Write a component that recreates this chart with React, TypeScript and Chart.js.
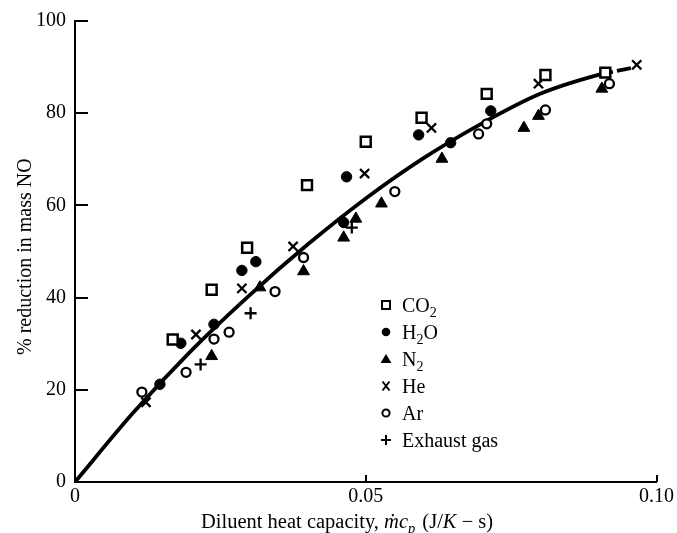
import React, { useEffect, useRef } from 'react';
import { Chart, registerables } from 'chart.js';

Chart.register(...registerables);

// ---- data ----
const CO2_X = [0.0168, 0.0235, 0.0296, 0.0399, 0.0500, 0.0596, 0.0708, 0.0809, 0.0912];
const CO2_Y = [30.9, 41.7, 50.8, 64.4, 73.8, 79.0, 84.2, 88.3, 88.8];

const H2O_X = [0.0146, 0.0182, 0.0239, 0.0287, 0.0311, 0.0462, 0.0467, 0.0591, 0.0646, 0.0715];
const H2O_Y = [21.2, 30.1, 34.2, 45.9, 47.8, 56.3, 66.2, 75.3, 73.6, 80.5];

const N2_X = [0.0235, 0.0318, 0.0393, 0.0462, 0.0483, 0.0527, 0.0631, 0.0772, 0.0797, 0.0906];
const N2_Y = [27.3, 42.2, 45.7, 53.0, 57.1, 60.4, 70.1, 76.8, 79.4, 85.3];

const HE_X = [0.0122, 0.0208, 0.0287, 0.0375, 0.0498, 0.0613, 0.0797, 0.0966];
const HE_Y = [17.3, 32.0, 42.0, 51.1, 66.9, 76.8, 86.4, 90.5];

const AR_X = [0.0115, 0.0191, 0.0239, 0.0265, 0.0344, 0.0393, 0.0550, 0.0694, 0.0708, 0.0809, 0.0919];
const AR_Y = [19.5, 23.8, 31.0, 32.5, 41.3, 48.7, 63.0, 75.5, 77.7, 80.7, 86.4];

const EXH_X = [0.0216, 0.0302, 0.0476];
const EXH_Y = [25.5, 36.6, 55.2];

const CURVE_X = [0, 0.01, 0.02, 0.03, 0.04, 0.05, 0.06, 0.07, 0.08, 0.09, 0.0925];
const CURVE_Y = [0, 15, 28.5, 40.5, 51.5, 61.5, 70.3, 77.8, 84.2, 88.3, 89.0];

const DASH_X = [0.0932, 0.0956];
const DASH_Y = [89.2, 89.8];

const X_TICKS = [0, 0.05, 0.1];
const X_TICK_LABELS = ['0', '0.05', '0.10'];
const Y_TICKS = [0, 20, 40, 60, 80, 100];
const Y_TICK_LABELS = ['0', '20', '40', '60', '80', '100'];

const LEGEND_ITEMS = [
  { style: 'rect', main: 'CO', sub: '2', tail: '' },
  { style: 'dot', main: 'H', sub: '2', tail: 'O' },
  { style: 'triangle', main: 'N', sub: '2', tail: '' },
  { style: 'x', main: 'He', sub: '', tail: '' },
  { style: 'ring', main: 'Ar', sub: '', tail: '' },
  { style: 'plus', main: 'Exhaust gas', sub: '', tail: '' },
];

const Y_TITLE = '% reduction in mass NO';
const X_TITLE_PARTS = [
  { text: 'Diluent heat capacity, ', italic: false, sub: false },
  { text: '\u1E41c', italic: true, sub: false },
  { text: 'p', italic: true, sub: true },
  { text: ' (J/', italic: false, sub: false },
  { text: 'K', italic: true, sub: false },
  { text: ' \u2212 s)', italic: false, sub: false },
];

const FONT = '"Liberation Serif", "Times New Roman", serif';

function pts(xs: number[], ys: number[]) {
  return xs.map((x, i) => ({ x, y: ys[i] }));
}

function drawMarker(ctx: CanvasRenderingContext2D, style: string, x: number, y: number) {
  ctx.save();
  ctx.strokeStyle = '#000';
  ctx.fillStyle = '#000';
  ctx.lineWidth = 2;
  ctx.beginPath();
  if (style === 'rect') {
    ctx.fillStyle = '#fff';
    ctx.rect(x - 4, y - 4, 8, 8);
    ctx.fill();
    ctx.stroke();
  } else if (style === 'dot') {
    ctx.arc(x, y, 4.3, 0, Math.PI * 2);
    ctx.fill();
  } else if (style === 'triangle') {
    ctx.moveTo(x, y - 5);
    ctx.lineTo(x + 5.5, y + 4);
    ctx.lineTo(x - 5.5, y + 4);
    ctx.closePath();
    ctx.fill();
  } else if (style === 'x') {
    ctx.lineWidth = 2;
    ctx.moveTo(x - 3.5, y - 4.5);
    ctx.lineTo(x + 3.5, y + 4.5);
    ctx.moveTo(x + 3.5, y - 4.5);
    ctx.lineTo(x - 3.5, y + 4.5);
    ctx.stroke();
  } else if (style === 'ring') {
    ctx.arc(x, y, 3.6, 0, Math.PI * 2);
    ctx.stroke();
  } else if (style === 'plus') {
    ctx.lineWidth = 2;
    ctx.moveTo(x - 5, y);
    ctx.lineTo(x + 5, y);
    ctx.moveTo(x, y - 5);
    ctx.lineTo(x, y + 5);
    ctx.stroke();
  }
  ctx.restore();
}

export default function App() {
  const ref = useRef<HTMLCanvasElement>(null);

  useEffect(() => {
    if (!ref.current) return;

    const decorPlugin = {
      id: 'decor',
      afterDraw(chart: any) {
        const { ctx, chartArea } = chart;
        const xs = chart.scales.x;
        const ys = chart.scales.y;
        ctx.save();
        ctx.strokeStyle = '#000';
        ctx.lineWidth = 2;
        // inward tick marks
        Y_TICKS.slice(1).forEach((v) => {
          const py = Math.round(ys.getPixelForValue(v));
          ctx.beginPath();
          ctx.moveTo(chartArea.left, py);
          ctx.lineTo(chartArea.left + 13, py);
          ctx.stroke();
        });
        X_TICKS.slice(1).forEach((v) => {
          const px = Math.round(xs.getPixelForValue(v));
          ctx.beginPath();
          ctx.moveTo(px, chartArea.bottom);
          ctx.lineTo(px, chartArea.bottom - 7);
          ctx.stroke();
        });

        // legend
        ctx.fillStyle = '#000';
        ctx.textBaseline = 'alphabetic';
        ctx.textAlign = 'left';
        LEGEND_ITEMS.forEach((it, i) => {
          const cy = 305 + i * 27;
          drawMarker(ctx, it.style, 386, cy);
          let tx = 402;
          const base = cy + 7;
          ctx.font = `20px ${FONT}`;
          ctx.fillText(it.main, tx, base);
          tx += ctx.measureText(it.main).width;
          if (it.sub) {
            ctx.font = `14px ${FONT}`;
            ctx.fillText(it.sub, tx, base + 5);
            tx += ctx.measureText(it.sub).width;
          }
          if (it.tail) {
            ctx.font = `20px ${FONT}`;
            ctx.fillText(it.tail, tx, base);
          }
        });

        // x title
        let tx = 201;
        const tb = 528;
        X_TITLE_PARTS.forEach((p) => {
          const size = p.sub ? 14.5 : 20.5;
          ctx.font = `${p.italic ? 'italic ' : ''}${size}px ${FONT}`;
          ctx.fillText(p.text, tx, p.sub ? tb + 5 : tb);
          tx += ctx.measureText(p.text).width + (p.sub ? 2 : 0);
        });

        // y title
        ctx.save();
        ctx.translate(31, 355);
        ctx.rotate(-Math.PI / 2);
        ctx.font = `20px ${FONT}`;
        ctx.textAlign = 'left';
        ctx.fillText(Y_TITLE, 0, 0);
        ctx.restore();

        ctx.restore();
      },
    };

    const ptBase = {
      showLine: false,
      pointBorderColor: '#000',
      pointHoverRadius: 0,
      order: 0,
    };

    const chart = new Chart(ref.current, {
      type: 'scatter',
      data: {
        datasets: [
          { ...ptBase, label: 'CO2', data: pts(CO2_X, CO2_Y), pointStyle: 'rect', pointRadius: 7, pointBorderWidth: 2.5, pointBackgroundColor: '#fff' },
          { ...ptBase, label: 'H2O', data: pts(H2O_X, H2O_Y), pointStyle: 'circle', pointRadius: 5.2, pointBorderWidth: 1, pointBackgroundColor: '#000' },
          { ...ptBase, label: 'N2', data: pts(N2_X, N2_Y), pointStyle: 'triangle', pointRadius: 6.8, pointBorderWidth: 1, pointBackgroundColor: '#000' },
          { ...ptBase, label: 'He', data: pts(HE_X, HE_Y), pointStyle: 'crossRot', pointRadius: 6.5, pointBorderWidth: 2.3, pointBackgroundColor: '#000' },
          { ...ptBase, label: 'Ar', data: pts(AR_X, AR_Y), pointStyle: 'circle', pointRadius: 4.5, pointBorderWidth: 2.3, pointBackgroundColor: '#fff' },
          { ...ptBase, label: 'Exhaust gas', data: pts(EXH_X, EXH_Y), pointStyle: 'cross', pointRadius: 6, pointBorderWidth: 2.3, pointBackgroundColor: '#000' },
          { label: 'fit', data: pts(CURVE_X, CURVE_Y), showLine: true, borderColor: '#000', borderWidth: 3.8, pointRadius: 0, cubicInterpolationMode: 'monotone', order: 10 },
          { label: 'fit-dash', data: pts(DASH_X, DASH_Y), showLine: true, borderColor: '#000', borderWidth: 3.8, pointRadius: 0, order: 10 },
        ] as any,
      },
      options: {
        animation: false,
        responsive: false,
        layout: { padding: { top: 20, right: 19, left: 0, bottom: 0 } },
        plugins: { legend: { display: false }, tooltip: { enabled: false } },
        scales: {
          x: {
            type: 'linear',
            min: 0,
            max: 0.1,
            afterBuildTicks: (s: any) => {
              s.ticks = X_TICKS.map((v) => ({ value: v }));
            },
            afterFit: (s: any) => {
              s.height = 51;
            },
            grid: { display: false, drawTicks: false },
            border: { display: true, color: '#000', width: 2 },
            ticks: {
              autoSkip: false,
              maxRotation: 0,
              padding: 3,
              color: '#000',
              font: { family: FONT, size: 20 },
              callback: (v: any) => {
                const i = X_TICKS.findIndex((t) => Math.abs(t - Number(v)) < 1e-9);
                return i >= 0 ? X_TICK_LABELS[i] : '';
              },
            },
          },
          y: {
            type: 'linear',
            min: 0,
            max: 100,
            afterBuildTicks: (s: any) => {
              s.ticks = Y_TICKS.map((v) => ({ value: v }));
            },
            afterFit: (s: any) => {
              s.width = 75;
            },
            grid: { display: false, drawTicks: false },
            border: { display: true, color: '#000', width: 2 },
            ticks: {
              autoSkip: false,
              padding: 9,
              color: '#000',
              font: { family: FONT, size: 20 },
              callback: (v: any) => {
                const i = Y_TICKS.findIndex((t) => Math.abs(t - Number(v)) < 1e-9);
                return i >= 0 ? Y_TICK_LABELS[i] : '';
              },
            },
          },
        },
      } as any,
      plugins: [decorPlugin],
    });

    return () => chart.destroy();
  }, []);

  return (
    <div style={{ position: 'absolute', left: 0, top: 0, width: 677, height: 533, background: '#fff' }}>
      <canvas ref={ref} width={677} height={533} style={{ display: 'block' }} />
    </div>
  );
}
